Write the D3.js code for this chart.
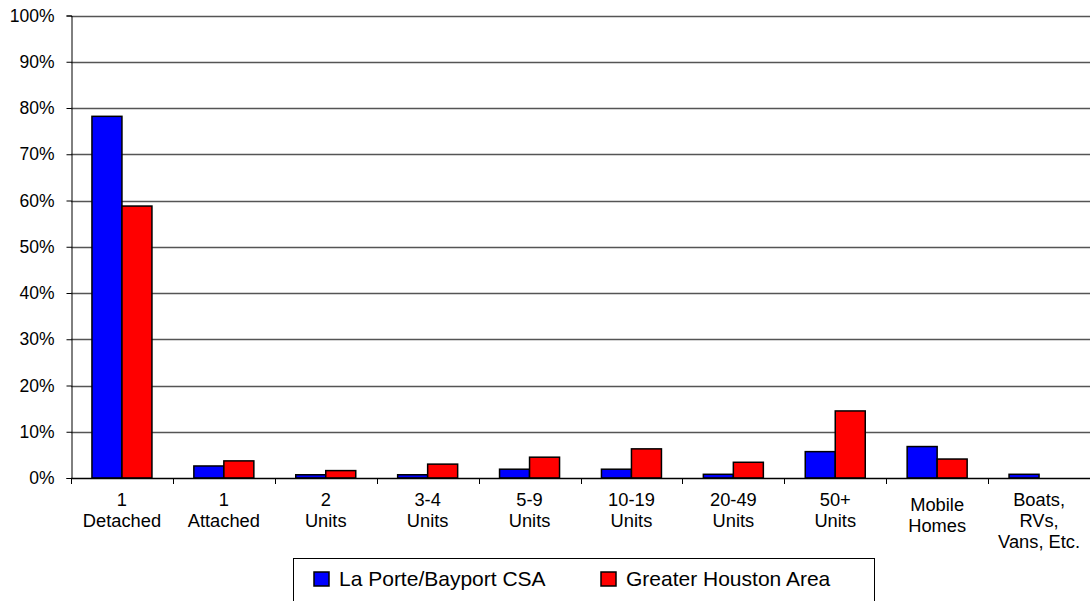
<!DOCTYPE html>
<html>
<head>
<meta charset="utf-8">
<script src="https://cdn.jsdelivr.net/npm/d3@7"></script>
<style>
  body { margin: 0; background: #fff; }
  svg { display: block; font-family: "Liberation Sans", Arial, sans-serif; }
</style>
</head>
<body>
<div id="chart"></div>
<script>
// categories (multi-line labels split on \n)
var categories = ["1\nDetached", "1\nAttached", "2\nUnits", "3-4\nUnits", "5-9\nUnits",
  "10-19\nUnits", "20-49\nUnits", "50+\nUnits", "Mobile\nHomes", "Boats,\nRVs,\nVans, Etc."];
var laPorte = [78.2, 2.6, 0.7, 0.7, 1.9, 1.9, 0.8, 5.7, 6.8, 0.8];
var houston = [58.8, 3.7, 1.6, 3.0, 4.5, 6.3, 3.4, 14.5, 4.1, 0];
var seriesNames = ["La Porte/Bayport CSA", "Greater Houston Area"];
var seriesColors = ["#0000ff", "#ff0000"];
var yTicks = [0, 10, 20, 30, 40, 50, 60, 70, 80, 90, 100];

var width = 1090, height = 601;
var plotLeft = 71, plotRight = 1090, plotTop = 15.5, plotBottom = 478;

var svg = d3.select("#chart").append("svg")
  .attr("width", width)
  .attr("height", height);

var x = d3.scaleBand().domain(categories).range([plotLeft, plotRight]);
var xs = d3.scaleBand().domain([0, 1]).range([0, 60]);
var y = d3.scaleLinear().domain([0, 100]).range([plotBottom, plotTop]);

// gridlines
svg.append("g").selectAll("line").data(yTicks.slice(1)).enter()
  .append("line")
  .attr("x1", plotLeft).attr("x2", plotRight)
  .attr("y1", function(d) { return Math.round(y(d)) + 0.5; })
  .attr("y2", function(d) { return Math.round(y(d)) + 0.5; })
  .attr("stroke", "#555").attr("stroke-width", 1.3);

// y axis
var yAxis = svg.append("g")
  .attr("transform", "translate(" + (plotLeft + 0.5) + ",0)")
  .call(d3.axisLeft(y).tickValues(yTicks).tickSize(5).tickPadding(12)
    .tickFormat(function(d) { return d + "%"; }));
yAxis.select(".domain").attr("stroke", "#000");
yAxis.selectAll(".tick line").attr("stroke", "#000");
yAxis.selectAll(".tick text")
  .attr("font-size", "17.5px").attr("fill", "#000")
  .attr("font-family", "'Liberation Sans', Arial, sans-serif");

// bars
var pairs = categories.map(function(c, i) { return { cat: c, vals: [laPorte[i], houston[i]] }; });
var groups = svg.append("g").selectAll("g").data(pairs).enter()
  .append("g")
  .attr("transform", function(d) { return "translate(" + (x(d.cat) + (x.bandwidth() - 60) / 2) + ",0)"; });
groups.selectAll("rect")
  .data(function(d) { return d.vals.map(function(v, k) { return { v: v, k: k }; }); })
  .enter()
  .filter(function(d) { return d.v > 0; })
  .append("rect")
  .attr("x", function(d) { return xs(d.k); })
  .attr("width", xs.bandwidth())
  .attr("y", function(d) { return y(d.v); })
  .attr("height", function(d) { return y(0) - y(d.v); })
  .attr("fill", function(d) { return seriesColors[d.k]; })
  .attr("stroke", "#000")
  .attr("stroke-width", 1.5);

// x axis line + ticks
var xAxisG = svg.append("g");
xAxisG.append("line")
  .attr("x1", plotLeft).attr("x2", plotRight)
  .attr("y1", plotBottom + 0.5).attr("y2", plotBottom + 0.5)
  .attr("stroke", "#000").attr("stroke-width", 1.5);
xAxisG.selectAll(".xt").data(categories).enter()
  .append("line")
  .attr("x1", function(d) { return Math.round(x(d)) + 0.5; })
  .attr("x2", function(d) { return Math.round(x(d)) + 0.5; })
  .attr("y1", plotBottom).attr("y2", plotBottom + 6)
  .attr("stroke", "#000");

// category labels
var labels = svg.append("g").selectAll("text").data(categories).enter()
  .append("text")
  .attr("text-anchor", "middle")
  .attr("font-size", "18.3px")
  .attr("fill", "#000")
  .attr("transform", function(d) {
    var shift = d === "Mobile\nHomes" ? 4.5 : 0;
    return "translate(" + (x(d) + x.bandwidth() / 2) + "," + (506 + shift) + ")";
  });
labels.selectAll("tspan")
  .data(function(d) { return d.split("\n"); })
  .enter().append("tspan")
  .attr("x", 0)
  .attr("dy", function(d, i) { return i === 0 ? 0 : 21; })
  .text(function(d) { return d; });

// legend
var legend = svg.append("g");
legend.append("rect")
  .attr("x", 293.5).attr("y", 558.5)
  .attr("width", 581).attr("height", 60)
  .attr("fill", "#fff").attr("stroke", "#000");
var legX = [314, 601];
seriesNames.forEach(function(name, i) {
  legend.append("rect")
    .attr("x", legX[i]).attr("y", 572)
    .attr("width", 15).attr("height", 14)
    .attr("fill", seriesColors[i])
    .attr("stroke", "#000").attr("stroke-width", 1.5);
  legend.append("text")
    .attr("x", legX[i] + 25).attr("y", 586)
    .attr("font-size", "21px").attr("fill", "#000")
    .text(name);
});
</script>
</body>
</html>
